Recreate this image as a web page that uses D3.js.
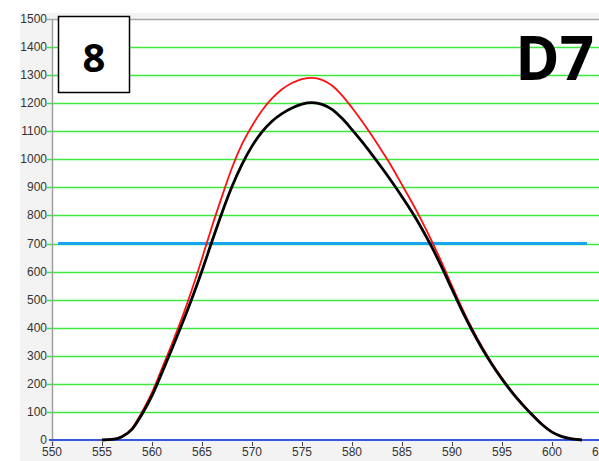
<!DOCTYPE html>
<html>
<head>
<meta charset="utf-8">
<script src="https://cdn.jsdelivr.net/npm/d3@7/dist/d3.min.js"></script>
<style>
  body { margin: 0; background: #fff; }
  svg { display: block; }
</style>
</head>
<body>
<svg id="svg"></svg>
<script>

const width = 599;
const height = 461;

// wavelength (nm), one reading per nm
const wavelengths = d3.range(555, 604);
const blackValues = [0, 2, 12, 38, 92, 158, 240, 325, 413, 505, 603, 708, 810, 903, 982, 1047, 1098, 1136, 1163, 1183, 1197, 1202,
	1196, 1178, 1146, 1106, 1063, 1017, 969, 919, 867, 812, 752, 686, 614, 537, 461, 391, 327, 269, 217, 170, 128, 90, 55, 28, 12, 4, 0];
const redValues = [0, 2, 13, 42, 100, 170, 255, 343, 435, 537, 647, 761, 868, 970, 1054, 1119, 1174, 1217, 1250, 1272, 1286, 1290,
	1283, 1263, 1228, 1184, 1136, 1084, 1029, 972, 909, 846, 779, 707, 630, 549, 470, 398, 332, 273, 221, 173, 131, 92, 57, 29, 12, 4, 0];

const xTicks = d3.range(550, 606, 5);
const yTicks = d3.range(0, 1501, 100);
const threshold = 700;
const thresholdSpan = [550.6, 603.5];
const panelNumber = "8";
const panelName = "D7";

const margin = { left: 52, top: 19, right: -3, bottom: 21 };

const x = d3.scaleLinear()
	.domain([550, 605])
	.range([margin.left, width - margin.right]);
const y = d3.scaleLinear()
	.domain([0, 1500])
	.range([height - margin.bottom, margin.top]);

const svg = d3.select("#svg")
	.attr("width", width)
	.attr("height", height);

// window background
svg.append("rect")
	.attr("x", 20).attr("y", 13)
	.attr("width", width).attr("height", height)
	.attr("fill", "#f3f3f3");

svg.append("rect")
	.attr("x", margin.left).attr("y", margin.top)
	.attr("width", width - margin.left).attr("height", y(0) - margin.top)
	.attr("fill", "#fff");

// green grid + left ticks
svg.append("g")
	.selectAll("line")
	.data(yTicks.filter(d => d > 0 && d < 1500))
	.enter().append("line")
	.attr("x1", margin.left - 5)
	.attr("x2", width)
	.attr("y1", d => Math.round(y(d)) + 0.5)
	.attr("y2", d => Math.round(y(d)) + 0.5)
	.attr("stroke", "#3ee83e")
	.attr("stroke-width", 1.3);

// top frame
svg.append("line")
	.attr("x1", margin.left - 5).attr("x2", width)
	.attr("y1", margin.top + 0.5).attr("y2", margin.top + 0.5)
	.attr("stroke", "#a8a8a8").attr("stroke-width", 1.5);

// y axis labels
svg.append("g")
	.selectAll("text")
	.data(yTicks)
	.enter().append("text")
	.attr("x", margin.left - 5)
	.attr("y", d => y(d) + 4)
	.attr("text-anchor", "end")
	.attr("font-family", "Liberation Sans, Arial, sans-serif")
	.attr("font-size", 12)
	.attr("fill", "#333")
	.text(d => d);

// y axis line
svg.append("line")
	.attr("x1", margin.left + 0.5).attr("x2", margin.left + 0.5)
	.attr("y1", margin.top).attr("y2", y(0) + 6)
	.attr("stroke", "#a0a0a0").attr("stroke-width", 1.5);

// x axis ticks and labels
const xg = svg.append("g");
xg.selectAll("line")
	.data(xTicks)
	.enter().append("line")
	.attr("x1", d => Math.round(x(d)) + 0.5)
	.attr("x2", d => Math.round(x(d)) + 0.5)
	.attr("y1", y(0) + 2)
	.attr("y2", y(0) + 6)
	.attr("stroke", "#444");
xg.selectAll("text")
	.data(xTicks)
	.enter().append("text")
	.attr("x", d => x(d))
	.attr("y", height - 5)
	.attr("text-anchor", "middle")
	.attr("font-family", "Liberation Sans, Arial, sans-serif")
	.attr("font-size", 12)
	.attr("fill", "#333")
	.text(d => d);

// zero line
svg.append("line")
	.attr("x1", margin.left - 3).attr("x2", width)
	.attr("y1", y(0)).attr("y2", y(0))
	.attr("stroke", "#3558dc").attr("stroke-width", 2);

// threshold line
svg.append("line")
	.attr("x1", x(thresholdSpan[0])).attr("x2", x(thresholdSpan[1]))
	.attr("y1", y(threshold)).attr("y2", y(threshold))
	.attr("stroke", "#18a4f0").attr("stroke-width", 3);

const line = d3.line()
	.x((d, i) => x(wavelengths[i]))
	.y(d => y(d))
	.curve(d3.curveMonotoneX);

svg.append("path")
	.attr("d", line(redValues))
	.attr("fill", "none")
	.attr("stroke", "#ff1010")
	.attr("stroke-width", 1.8);

svg.append("path")
	.attr("d", line(blackValues))
	.attr("fill", "none")
	.attr("stroke", "#000")
	.attr("stroke-width", 2.8);

// panel number box
svg.append("rect")
	.attr("x", 58.5).attr("y", 16.5)
	.attr("width", 71).attr("height", 76)
	.attr("fill", "#fff")
	.attr("stroke", "#000")
	.attr("stroke-width", 1.5);
svg.append("text")
	.attr("x", 94).attr("y", 72)
	.attr("text-anchor", "middle")
	.attr("font-family", "Open Sans, sans-serif")
	.attr("font-weight", "bold")
	.attr("font-size", 40)
	.text(panelNumber);

svg.append("text")
	.attr("x", 594).attr("y", 80)
	.attr("text-anchor", "end")
	.attr("font-family", "Open Sans, sans-serif")
	.attr("font-weight", "bold")
	.attr("font-size", 60)
	.text(panelName);

</script>
</body>
</html>
